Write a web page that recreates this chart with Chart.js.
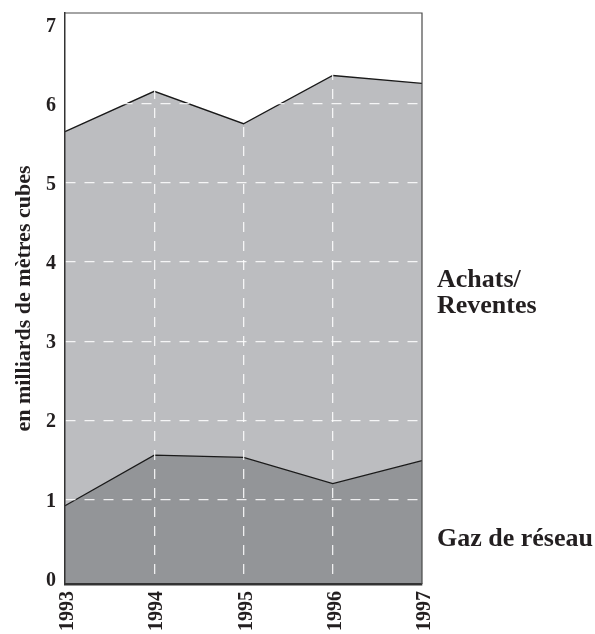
<!DOCTYPE html>
<html><head><meta charset="utf-8">
<script src="https://cdn.jsdelivr.net/npm/chart.js@4/dist/chart.umd.min.js"></script>
<style>html,body{margin:0;padding:0;background:#fff}#wrap{width:595px;height:634px}</style>
</head><body><div id="wrap"><canvas id="c" width="595" height="634"></canvas></div>
<script>
const years = ['1993', '1994', '1995', '1996', '1997'];
const gazDeReseau = [0.92, 1.56, 1.53, 1.20, 1.49];
const achatsReventes = [4.73, 4.60, 4.22, 5.16, 4.77];
const yTickValues = [0, 1, 2, 3, 4, 5, 6, 7];
const yAxisTitle = 'en milliards de mètres cubes';
const achatsLabel = ['Achats/', 'Reventes'];
const gazLabel = ['Gaz de réseau'];

const FONT = '"Liberation Serif", "Times New Roman", serif';
const INK = '#231f20';
const GRID = 'rgba(255,255,255,0.85)';
const NONE = 'rgba(0,0,0,0)';

const framePlugin = {
  id: 'frame',
  afterDraw(chart) {
    const { ctx, chartArea: a } = chart;
    ctx.save();
    ctx.strokeStyle = '#4a4a4a';
    ctx.lineWidth = 1.2;
    ctx.beginPath();
    ctx.moveTo(a.left, a.top);
    ctx.lineTo(a.right, a.top);
    ctx.lineTo(a.right, a.bottom);
    ctx.stroke();
    ctx.fillStyle = INK;
    ctx.font = 'bold 26px ' + FONT;
    ctx.textAlign = 'left';
    ctx.textBaseline = 'alphabetic';
    const x = a.right + 15;
    achatsLabel.forEach((t, i) => ctx.fillText(t, x, 287 + i * 26));
    gazLabel.forEach((t, i) => ctx.fillText(t, x, 546 + i * 26));
    ctx.restore();
  }
};

new Chart(document.getElementById('c'), {
  type: 'line',
  data: {
    labels: years,
    datasets: [
      {
        label: 'Gaz de réseau',
        data: gazDeReseau,
        fill: 'start',
        backgroundColor: '#939598',
        borderColor: '#1a1a1a',
        borderWidth: 1.3,
        pointRadius: 0,
        tension: 0
      },
      {
        label: 'Achats/Reventes',
        data: achatsReventes,
        fill: '-1',
        backgroundColor: '#bcbdc0',
        borderColor: '#1a1a1a',
        borderWidth: 1.3,
        pointRadius: 0,
        tension: 0
      }
    ]
  },
  options: {
    responsive: false,
    animation: false,
    layout: { padding: { top: 13, right: 173, left: 0, bottom: 0 } },
    plugins: { legend: { display: false }, tooltip: { enabled: false } },
    scales: {
      x: {
        offset: false,
        afterFit(s) { s.height = 50; s.paddingLeft = 0; s.paddingRight = 0; },
        grid: {
          z: 1,
          drawTicks: false,
          color: (c) => (c.index === 0 || c.index === years.length - 1) ? NONE : GRID,
          lineWidth: 1.3
        },
        border: { display: true, z: 2, color: '#333', width: 2.5, dash: [10, 9] },
        ticks: {
          minRotation: 90, maxRotation: 90, autoSkip: false,
          padding: 7, labelOffset: 3,
          color: INK,
          font: { family: FONT, size: 20, weight: 'bold' }
        }
      },
      y: {
        stacked: true,
        min: -0.07,
        max: 7.15,
        afterFit(s) { s.width = 65; s.paddingTop = 0; s.paddingBottom = 0; },
        afterBuildTicks(s) { s.ticks = yTickValues.map(v => ({ value: v })); },
        grid: {
          z: 1,
          drawTicks: false,
          color: (c) => (c.tick && c.tick.value === 0) ? NONE : GRID,
          lineWidth: 1.3
        },
        border: { display: true, z: 2, color: '#333', width: 1.5, dash: [10, 9] },
        ticks: {
          padding: 9, labelOffset: 2,
          color: INK,
          font: { family: FONT, size: 20, weight: 'bold' },
          callback: (v) => String(v)
        },
        title: {
          display: true,
          text: yAxisTitle,
          color: INK,
          font: { family: FONT, size: 22, weight: 'bold', lineHeight: 1.2 },
          padding: { top: 11, bottom: 0 }
        }
      }
    }
  },
  plugins: [framePlugin]
});
</script>
</body></html>
